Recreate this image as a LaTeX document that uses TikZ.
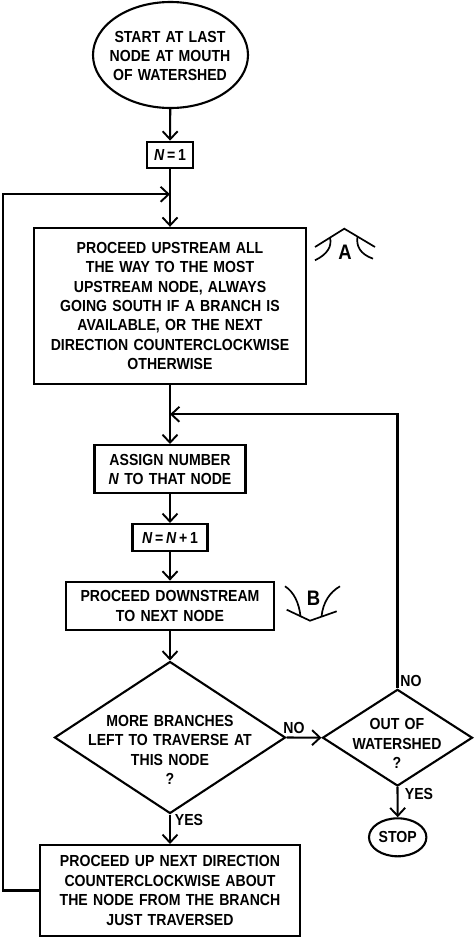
\documentclass[tikz,border=0pt]{standalone}
\usepackage{fontspec}
\setmainfont[FakeStretch=0.88,WordSpace=1.35,UprightFont={* Bold},BoldFont={* Bold},ItalicFont={* Bold Italic},BoldItalicFont={* Bold Italic}]{Liberation Sans}
\usetikzlibrary{shapes.geometric,arrows.meta}
\newcommand{\NN}{\textit{N}}
\begin{document}
\begin{tikzpicture}[x=1pt,y=-1pt,line width=2.1pt,
  txt/.style={font=\fontsize{16}{19.4}\selectfont,align=center,inner sep=0pt},
  box/.style={txt,draw,rectangle},
  oval/.style={draw,ellipse,inner sep=0pt},
  dia/.style={draw,diamond,inner sep=0pt},
  arr/.style={-{Straight Barb[length=8pt,width=15pt,line width=1.9pt]}},
  sym/.style={line width=1.7pt},
  symtxt/.style={font=\fontsize{21}{21}\selectfont,inner sep=0pt}]
\useasboundingbox (0,0) rectangle (474,937);
% shapes
\node[oval,minimum width=155,minimum height=106] (start) at (170.5,55) {};
\node[txt] (startT) at (170,56) {START AT LAST\\NODE AT MOUTH\\OF WATERSHED};
\node[box,minimum width=46.6,minimum height=26] (n1) at (170,154.7) {\NN\,=\,1};
\node[box,minimum width=272.7,minimum height=156.3] (box1) at (170,306) {PROCEED UPSTREAM ALL\\THE WAY TO THE MOST\\UPSTREAM NODE, ALWAYS\\GOING SOUTH IF A BRANCH IS\\AVAILABLE, OR THE NEXT\\DIRECTION COUNTERCLOCKWISE\\OTHERWISE};
\node[box,minimum width=151,minimum height=48.3] (assign) at (170,469.2) {ASSIGN NUMBER\\\NN{} TO THAT NODE};
\node[box,minimum width=75,minimum height=27] (nn1) at (170,537.5) {\NN\,=\,\NN\,+\,1};
\node[box,minimum width=208.6,minimum height=48.3] (down) at (170,605.8) {PROCEED DOWNSTREAM\\TO NEXT NODE};
\node[dia,minimum width=231,minimum height=152] (d1) at (170,737.5) {};
\node[txt] (d1T) at (170,750) {MORE BRANCHES\\LEFT TO TRAVERSE AT\\THIS NODE\\?};
\node[dia,minimum width=150,minimum height=96.7] (d2) at (397.5,737.7) {};
\node[txt] (d2T) at (397,743.5) {OUT OF\\WATERSHED\\?};
\node[oval,txt,draw,ellipse,minimum width=57.4,minimum height=38] (stop) at (397.7,837.3) {STOP};
\node[box,minimum width=259.7,minimum height=91] (bot) at (170,890.5) {PROCEED UP NEXT DIRECTION\\COUNTERCLOCKWISE ABOUT\\THE NODE FROM THE BRANCH\\JUST TRAVERSED};
% labels
\node[txt] (noA) at (294,727.5) {NO};
\node[txt] (noB) at (411,681) {NO};
\node[txt] (yesA) at (189,820) {YES};
\node[txt] (yesB) at (419,794) {YES};
% junctions
\coordinate (j1) at (170,194.3);
\coordinate (j2) at (170,414.3);
\coordinate (cL) at (3,194.3);
% connectors
\draw[arr] (start) -- (n1);
\draw[arr] (n1) -- (box1);
\draw[arr] (bot.west) -| (cL) -- (j1);
\draw[arr] (box1) -- (assign);
\draw[arr] (d2.north) |- (j2);
\draw[arr] (assign) -- (nn1);
\draw[arr] (nn1) -- (down);
\draw[arr] (down) -- (d1);
\draw[arr] (d1.east) -- (d2.west);
\draw[arr] (d2.south) -- (stop.north);
\draw[arr] (d1.south) -- (bot.north);
% symbol A
\draw[sym] (315,247) -- (344.3,228.7) -- (375,247);
\draw[sym] (315,260.3) .. controls (328,254) and (332,246) .. (330,237.6);
\draw[sym] (373,258.7) .. controls (360,254) and (356,246) .. (357.5,236.6);
\node[symtxt] (symA) at (345,252) {A};
% symbol B
\draw[sym] (286.7,609.7) -- (310,620.7) -- (336.7,611.3);
\draw[sym] (285,586.3) .. controls (294,592) and (299,603) .. (300.5,616.2);
\draw[sym] (340,586.3) .. controls (330,592) and (323,602) .. (321.5,616.6);
\node[symtxt] (symB) at (313.5,598) {B};
\end{tikzpicture}
\end{document}
